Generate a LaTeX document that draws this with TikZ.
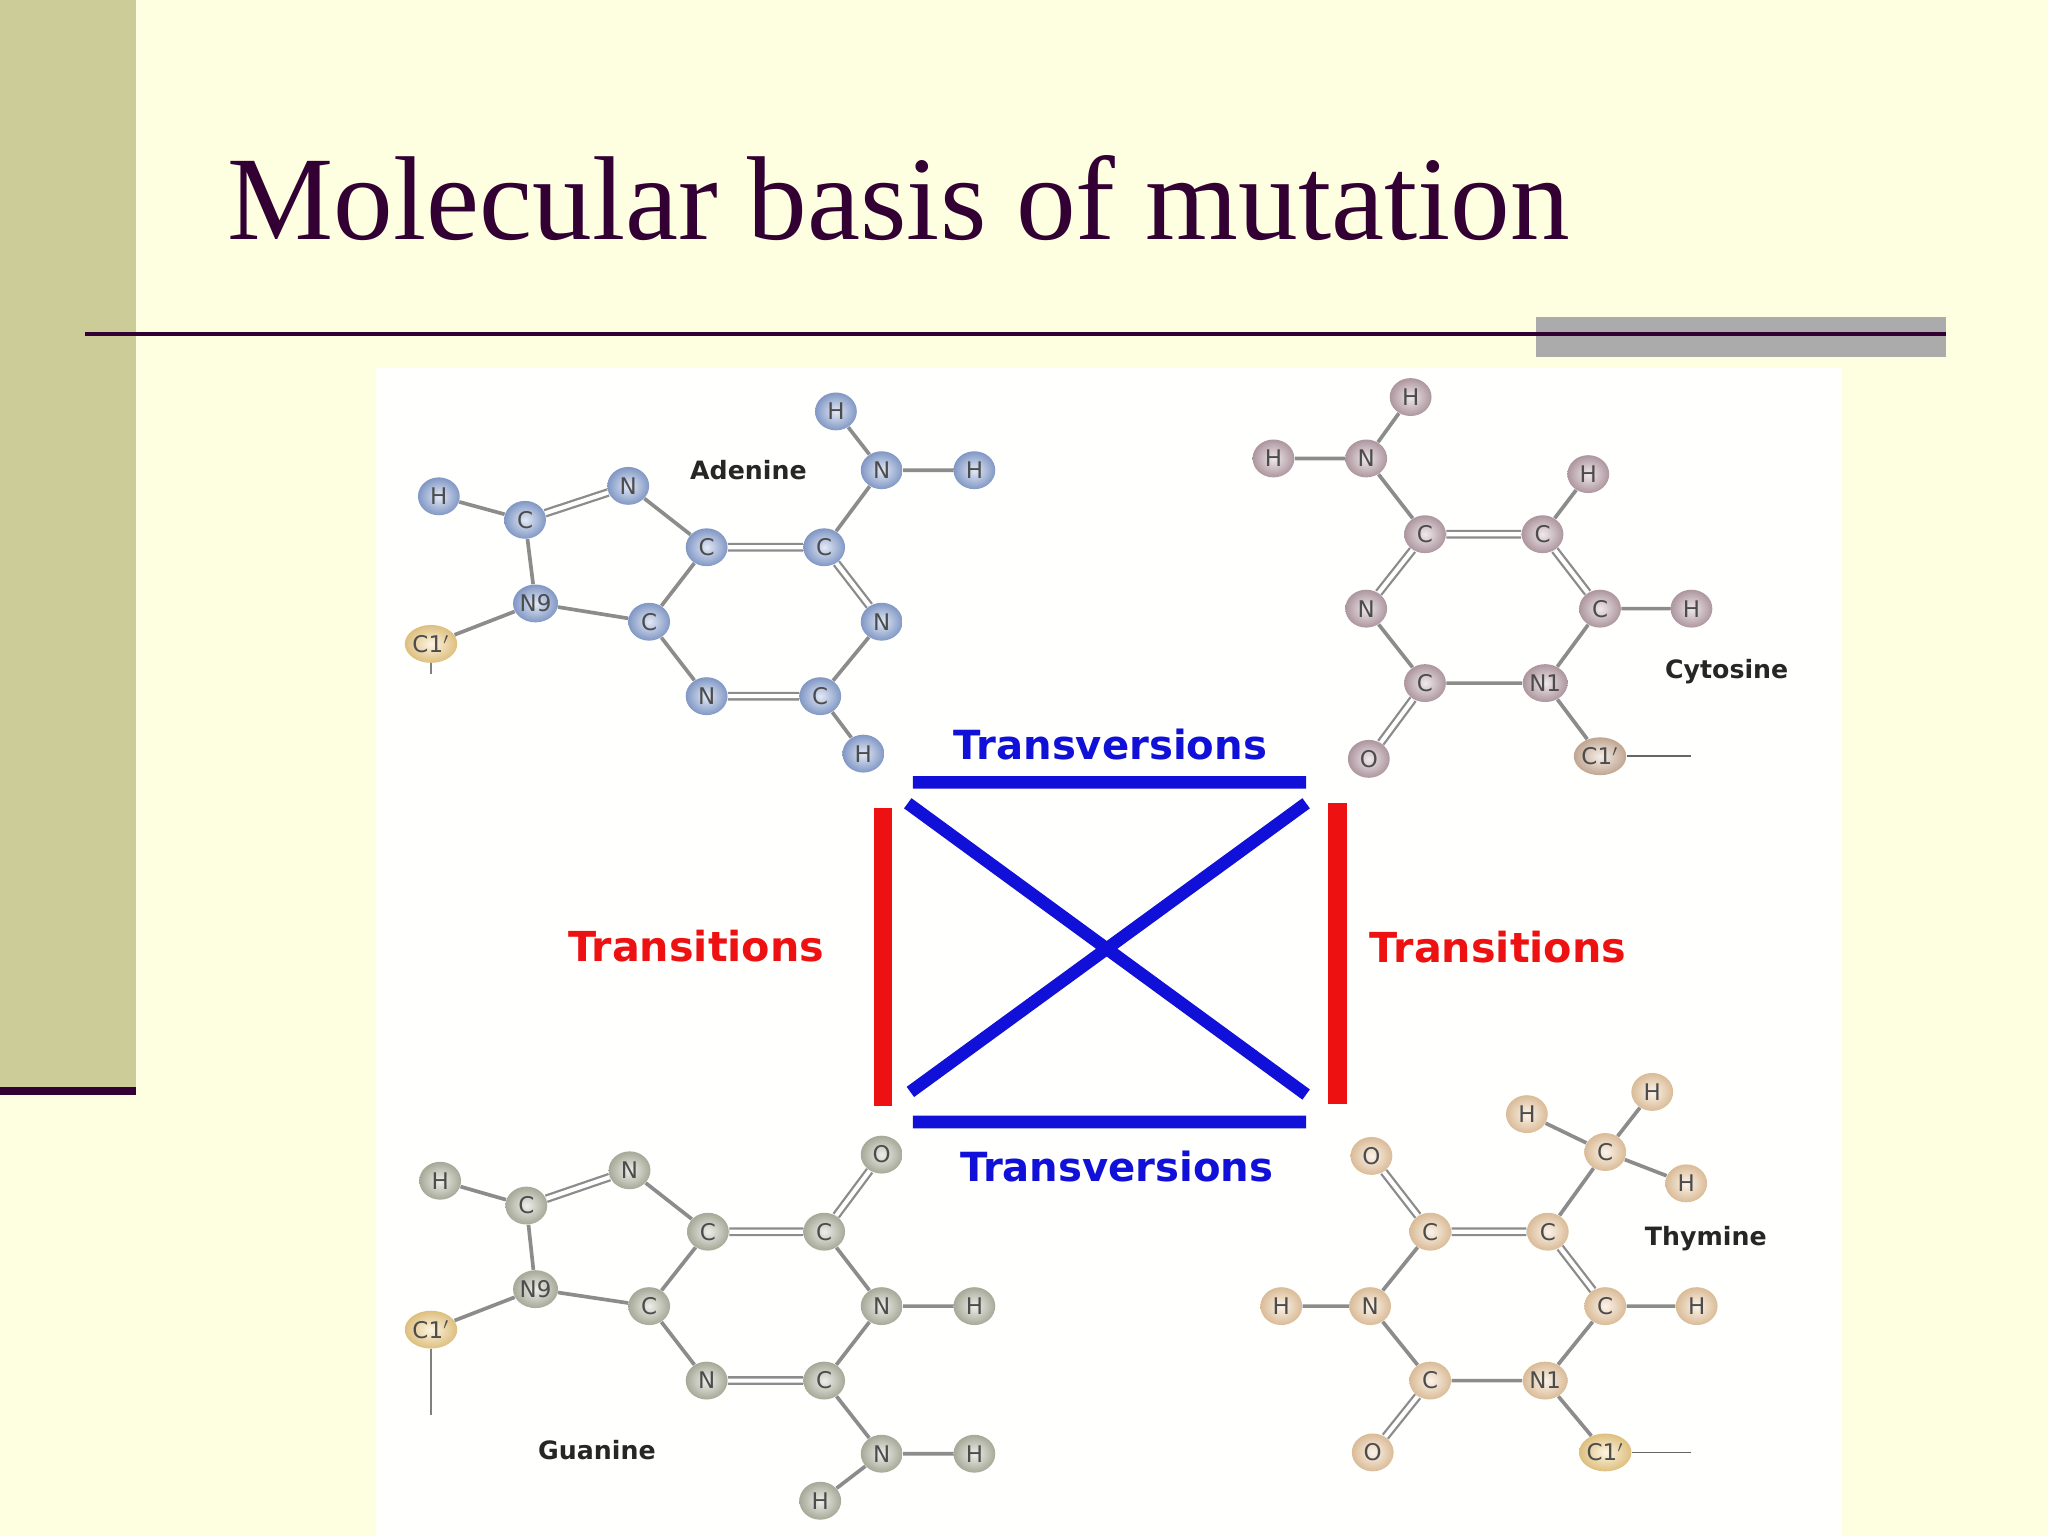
\documentclass[tikz,border=0pt]{standalone}
\usepackage{fontspec}
\setmainfont{Liberation Serif}
\newfontfamily\vfont{DejaVu Sans}
\usetikzlibrary{shadings}
\definecolor{bgc}{HTML}{FEFEE0}
\definecolor{olive}{HTML}{CCCC99}
\definecolor{dpur}{HTML}{330033}
\definecolor{ablue}{HTML}{8FA8DA}
\definecolor{cpink}{HTML}{C0A6B0}
\definecolor{ggrn}{HTML}{B8BCA8}
\definecolor{tpch}{HTML}{F2D0A8}
\definecolor{cyel}{HTML}{F6D48C}
\definecolor{tblue}{HTML}{1010D8}
\definecolor{tred}{HTML}{EE1111}
\tikzset{
 atom/.style={ellipse,inner sep=0pt,minimum width=0.64cm,minimum height=0.58cm,shading=radial,inner color=#1!25!white,outer color=#1!90!black,font=\vfont\fontsize{10}{10}\selectfont,text=black!70},
 bond/.style={draw=black!45,line width=1.6pt},
 dbond/.style={draw=black!45,line width=1pt,double=white,double distance=1.8pt},
 mlabel/.style={font=\vfont\bfseries\fontsize{11}{11}\selectfont,text=black!85},
 tv/.style={font=\vfont\bfseries\fontsize{17.5}{18}\selectfont,text=tblue},
 ts/.style={font=\vfont\bfseries\fontsize{18}{18}\selectfont,text=tred},
 bl/.style={draw=tblue,line width=5.5pt},
 rl/.style={draw=tred,line width=8pt},
}
\usetikzlibrary{shapes.geometric}
\begin{document}
\begin{tikzpicture}[x=0.02cm,y=-0.02cm]
\fill[bgc] (0,0) rectangle (1568,1176);
\useasboundingbox (0,0) rectangle (1568,1176);
\fill[olive] (0,0) rectangle (104,835);
\fill[dpur] (0,832) rectangle (104,838);
\node[anchor=west,text=dpur,font=\fontsize{52}{52}\selectfont] (title) at (168,152) {Molecular basis of mutation};
\fill[black!33] (1176,243) rectangle (1490,273);
\draw[dpur,line width=1.7pt] (65,256) -- (1490,256);
\fill[white!97!bgc] (288,282) rectangle (1410,1176);
% Adenine
\foreach \n/\x/\y/\t in {ah1/640/315/H,an6/675/360/N,ah2/746/360/H,ac6/631/419/C,ac5/541/419/C,an7/481/372/N,ac8/402/398/C,ah8/336/380/H,an9/410/462/N9,ac4/497/476/C,an3/541/533/N,ac2/628/533/C,an1/675/476/N,ah3/661/577/H}
  \node[atom=ablue] (\n) at (\x,\y) {\t};
\node[atom=cyel] (ac1) at (330,493) {C1$'$};
\draw[bond] (ah1)--(an6) (an6)--(ah2) (an6)--(ac6) (ac5)--(an7) (ac8)--(ah8) (ac8)--(an9) (an9)--(ac4) (ac4)--(ac5) (ac4)--(an3) (ac2)--(an1) (ac2)--(ah3) (an9)--(ac1);
\draw[dbond] (ac6)--(ac5) (an7)--(ac8) (an3)--(ac2) (an1)--(ac6);
\draw[black!50,line width=1pt] (ac1.south)--++(0,8);
\node[mlabel] (alab) at (573,360) {Adenine};
% Cytosine
\foreach \n/\x/\y/\t in {ch1/1080/304/H,ch2/975/351/H,cn4/1046/351/N,cc4/1091/409/C,cc5/1181/409/C,ch5/1216/363/H,cn3/1046/466/N,cc6/1225/466/C,ch6/1295/466/H,cc2/1091/523/C,cn1/1183/523/N1,co/1048/581/O}
  \node[atom=cpink] (\n) at (\x,\y) {\t};
\node[atom=cpink!60!cyel] (cc1) at (1225,579) {C1$'$};
\coordinate (ce) at (1295,579);
\draw[bond] (ch1)--(cn4) (ch2)--(cn4) (cn4)--(cc4) (cc5)--(ch5) (cc6)--(ch6) (cc6)--(cn1) (cn1)--(cc2) (cc2)--(cn3) (cn1)--(cc1);
\draw[dbond] (cc4)--(cc5) (cc5)--(cc6) (cc2)--(co) (cn3)--(cc4);
\draw[black!60,line width=0.8pt] (cc1.east)--(ce);
\node[mlabel] (clab) at (1322,514) {Cytosine};
% Guanine
\foreach \n/\x/\y/\t in {gh8/337/904/H,gc8/403/923/C,gn7/482/896/N,gc5/542/943/C,gc6/631/943/C,go/675/884/O,gn9/410/987/N9,gc4/497/1000/C,gn1/675/1000/N,gh1/746/1000/H,gn3/541/1057/N,gc2/631/1057/C,gn2/675/1113/N,gh2/746/1113/H,gh3/628/1149/H}
  \node[atom=ggrn] (\n) at (\x,\y) {\t};
\node[atom=cyel] (gc1) at (330,1018) {C1$'$};
\coordinate (ge) at (330,1083);
\draw[bond] (gh8)--(gc8) (gc8)--(gn9) (gn9)--(gc4) (gc4)--(gc5) (gc5)--(gn7) (gc6)--(gn1) (gn1)--(gh1) (gn1)--(gc2) (gc2)--(gn2) (gn2)--(gh2) (gn2)--(gh3) (gc4)--(gn3) (gn9)--(gc1);
\draw[dbond] (gc8)--(gn7) (gc5)--(gc6) (gc6)--(go) (gn3)--(gc2);
\draw[black!50,line width=1pt] (gc1.south)--(ge);
\node[mlabel] (glab) at (457,1110) {Guanine};
% Thymine
\foreach \n/\x/\y/\t in {th1/1265/836/H,th2/1169/853/H,tcm/1229/882/C,th3/1291/906/H,to1/1050/885/O,tc4/1095/943/C,tc5/1185/943/C,tn3/1049/1000/N,th4/981/1000/H,tc6/1229/1000/C,th6/1299/1000/H,tc2/1095/1057/C,tn1/1183/1057/N1,to2/1051/1112/O}
  \node[atom=tpch] (\n) at (\x,\y) {\t};
\node[atom=cyel] (tc1) at (1229,1112) {C1$'$};
\coordinate (te) at (1295,1112);
\draw[bond] (th1)--(tcm) (th2)--(tcm) (th3)--(tcm) (tcm)--(tc5) (tc4)--(tn3) (tn3)--(th4) (tn3)--(tc2) (tc6)--(th6) (tc6)--(tn1) (tn1)--(tc2) (tn1)--(tc1);
\draw[dbond] (to1)--(tc4) (tc4)--(tc5) (tc5)--(tc6) (tc2)--(to2);
\draw[black!60,line width=0.8pt] (tc1.east)--(te);
\node[mlabel] (tlab) at (1306,948) {Thymine};
% central scheme
\coordinate (p1) at (699,599); \coordinate (p2) at (1000,599);
\coordinate (p3) at (699,859); \coordinate (p4) at (1000,859);
\coordinate (x1) at (695,615); \coordinate (x2) at (1000,838);
\coordinate (x3) at (1000,615); \coordinate (x4) at (697,836);
\coordinate (r1) at (676,619); \coordinate (r2) at (676,847);
\coordinate (r3) at (1024,615); \coordinate (r4) at (1024,845);
\draw[bl] (p1)--(p2) (p3)--(p4) (x1)--(x2) (x3)--(x4);
\draw[rl] (r1)--(r2) (r3)--(r4);
\node[tv] (tv1) at (850,570) {Transversions};
\node[tv] (tv2) at (855,893) {Transversions};
\node[ts] (ts1) at (533,724) {Transitions};
\node[ts] (ts2) at (1147,725) {Transitions};
\end{tikzpicture}
\end{document}
